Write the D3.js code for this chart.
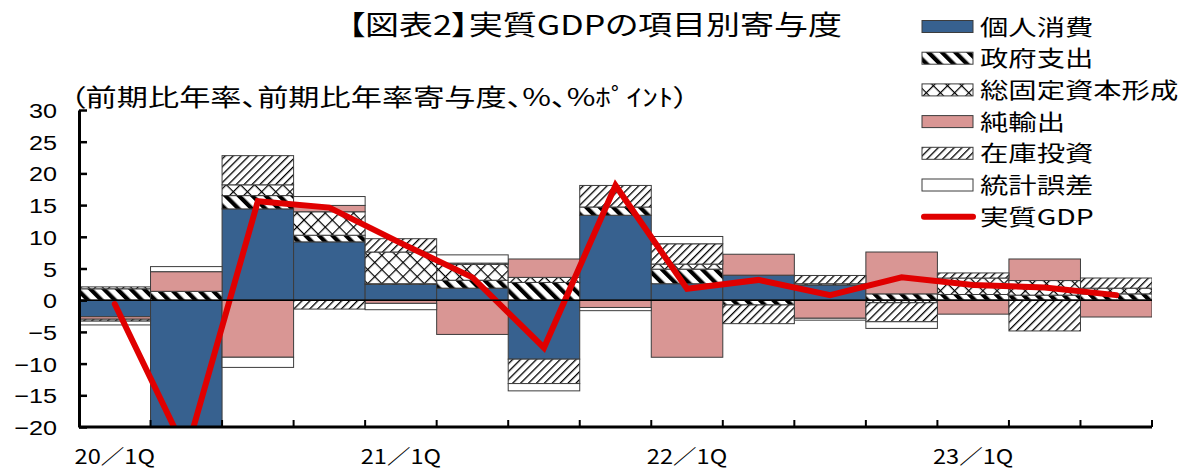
<!DOCTYPE html>
<html>
<head>
<meta charset="utf-8">
<script src="https://cdn.jsdelivr.net/npm/d3@7"></script>
<style>
  body { margin: 0; background: #fff; }
  svg { display: block; }
</style>
</head>
<body>
<svg id="chart"></svg>
<script>
// quarters on the x axis
let quarters = ['20/1Q','20/2Q','20/3Q','20/4Q','21/1Q','21/2Q','21/3Q','21/4Q',
                '22/1Q','22/2Q','22/3Q','22/4Q','23/1Q','23/2Q','23/3Q'];
let tickQuarters = ['20/1Q','21/1Q','22/1Q','23/1Q'];
let yTicks = [-20,-15,-10,-5,0,5,10,15,20,25,30];

// contributions (%pt)
let consumption     = [-2.6,-29.0,14.4, 9.2, 2.5, 1.9,-9.3,13.4, 2.6, 3.95, 2.4, 0.0, 0.0, 0.0, 0.0];
let government      = [ 1.8,  1.4, 2.1, 1.05,0.1, 1.25,2.8, 1.3, 2.3,-0.75, 0.0, 1.0, 0.9, 0.8, 1.0];
let investment      = [ 0.3,  0.0, 1.7, 3.7, 5.0, 2.5, 0.8, 0.0, 0.8, 0.0,  0.2,-0.4, 2.6, 2.3, 0.9];
let netExports      = [-0.4,  3.1,-9.0, 1.0,-0.5,-5.4, 2.9,-1.15,-9.0,3.3, -2.85,6.6,-2.2, 3.4,-2.65];
let inventories     = [-0.3,  0.0, 4.6,-1.4, 2.1, 0.2,-3.85,3.4, 3.2,-2.95, 1.3,-3.0, 0.8,-4.85,1.6];
let statDiscrepancy = [-0.6,  0.8,-1.6, 1.4,-1.0, 1.3,-1.15,-0.5,1.15,0.0, -0.3,-1.05,0.0, 0.0, 0.0];
let realGDP         = [-0.6,-24.0,15.6,14.6, 9.0, 3.6,-7.5,18.1, 1.8, 3.2,  0.8, 3.6, 2.4, 2.0, 0.8];

let seriesNames = ['個人消費','政府支出','総固定資本形成','純輸出','在庫投資','統計誤差'];
let seriesValues = [consumption, government, investment, netExports, inventories, statDiscrepancy];
let lineName = '実質GDP';

let width = 1187;
let height = 470;
let plotLeft = 79, plotRight = 1152, plotTop = 110, plotBottom = 427;

let jp = '"Noto Sans CJK JP", "Noto Sans", sans-serif';

let svg = d3.select('#chart').attr('width', width).attr('height', height);
let defs = svg.append('defs');

// fill patterns
let pGov = defs.append('pattern').attr('id', 'pGov')
    .attr('patternUnits', 'userSpaceOnUse').attr('width', 9.5).attr('height', 9.5)
    .attr('patternTransform', 'rotate(-45)');
pGov.append('rect').attr('width', 9.5).attr('height', 9.5).attr('fill', '#fff');
pGov.append('rect').attr('width', 4.2).attr('height', 9.5).attr('fill', '#000');

let pCap = defs.append('pattern').attr('id', 'pCap')
    .attr('patternUnits', 'userSpaceOnUse').attr('width', 10).attr('height', 10)
    .attr('patternTransform', 'rotate(45)');
pCap.append('rect').attr('width', 10).attr('height', 10).attr('fill', '#fff');
pCap.append('rect').attr('width', 1.2).attr('height', 10).attr('fill', '#000');
pCap.append('rect').attr('width', 10).attr('height', 1.2).attr('fill', '#000');

let pInv = defs.append('pattern').attr('id', 'pInv')
    .attr('patternUnits', 'userSpaceOnUse').attr('width', 5.6).attr('height', 5.6)
    .attr('patternTransform', 'rotate(45)');
pInv.append('rect').attr('width', 5.6).attr('height', 5.6).attr('fill', '#fff');
pInv.append('rect').attr('width', 1.3).attr('height', 5.6).attr('fill', '#000');

let fills = {
    '個人消費': '#37618F',
    '政府支出': 'url(#pGov)',
    '総固定資本形成': 'url(#pCap)',
    '純輸出': '#D99694',
    '在庫投資': 'url(#pInv)',
    '統計誤差': '#fff'
};

defs.append('clipPath').attr('id', 'plotClip')
    .append('rect').attr('x', plotLeft).attr('y', plotTop)
    .attr('width', plotRight - plotLeft).attr('height', plotBottom - plotTop);

// scales
let xScale = d3.scaleBand().domain(quarters).range([plotLeft, plotRight]).padding(0);
let yScale = d3.scaleLinear().domain([-20, 30]).range([plotBottom, plotTop]);

// stacked data
let rows = quarters.map((q, i) => {
    let r = { q: q };
    seriesNames.forEach((s, j) => { r[s] = seriesValues[j][i]; });
    return r;
});
let stacked = d3.stack().keys(seriesNames).offset(d3.stackOffsetDiverging)(rows);

let plot = svg.append('g').attr('clip-path', 'url(#plotClip)');

stacked.forEach(layer => {
    plot.append('g').selectAll('rect')
        .data(layer.filter(d => d[0] !== d[1]))
        .enter()
        .append('rect')
        .attr('x', d => xScale(d.data.q))
        .attr('width', xScale.bandwidth())
        .attr('y', d => yScale(Math.max(d[0], d[1])))
        .attr('height', d => Math.abs(yScale(d[0]) - yScale(d[1])))
        .attr('fill', fills[layer.key])
        .attr('stroke', '#3c3c3c')
        .attr('stroke-width', 1);
});

// zero line
svg.append('line')
    .attr('x1', plotLeft).attr('x2', plotRight)
    .attr('y1', yScale(0)).attr('y2', yScale(0))
    .attr('stroke', '#000').attr('stroke-width', 1.5);

// real GDP line
let gdpLine = d3.line()
    .x((d, i) => xScale(quarters[i]) + xScale.bandwidth() / 2)
    .y(d => yScale(d));
plot.append('path')
    .datum(realGDP)
    .attr('d', gdpLine)
    .attr('fill', 'none')
    .attr('stroke', '#E00000')
    .attr('stroke-width', 6)
    .attr('stroke-linecap', 'round')
    .attr('stroke-linejoin', 'miter');

// y axis (ticks inside)
let ySx = 1.2;
let yAxis = d3.axisLeft(yScale)
    .tickValues(yTicks)
    .tickSize(-8)
    .tickSizeOuter(0)
    .tickPadding(22)
    .tickFormat(d => d < 0 ? '−' + Math.abs(d) : d);
let yG = svg.append('g').attr('transform', 'translate(' + plotLeft + ',0)').call(yAxis);
yG.select('.domain').attr('stroke', '#000').attr('stroke-width', 3);
yG.selectAll('.tick line').attr('stroke', '#000').attr('stroke-width', 2.5);
yG.selectAll('.tick text')
    .attr('x', -22 / ySx)
    .attr('transform', 'scale(' + ySx + ',1)')
    .attr('dy', '0.36em')
    .style('font-family', '"Liberation Sans", Arial, sans-serif')
    .style('font-size', '21px')
    .attr('fill', '#000');

// x axis (ticks at band edges, pointing up)
let edges = quarters.map(q => xScale(q)).concat([plotRight]);
let xG = svg.append('g');
xG.append('line')
    .attr('x1', plotLeft).attr('x2', plotRight)
    .attr('y1', plotBottom).attr('y2', plotBottom)
    .attr('stroke', '#000').attr('stroke-width', 3);
xG.selectAll('line.tk')
    .data(edges)
    .enter()
    .append('line')
    .attr('class', 'tk')
    .attr('x1', d => d).attr('x2', d => d)
    .attr('y1', plotBottom).attr('y2', plotBottom - 7)
    .attr('stroke', '#000').attr('stroke-width', 2);

let stext = (sel, x, y, str, size, sx, anchor, palt) => {
    let t = sel.append('text')
        .attr('transform', 'translate(' + x + ',' + y + ') scale(' + sx + ',1)')
        .attr('text-anchor', anchor)
        .style('font-family', jp)
        .style('font-size', size + 'px')
        .attr('fill', '#000')
        .text(str);
    if (palt) t.style('font-feature-settings', '"palt" 1');
    return t;
};

tickQuarters.forEach(q => {
    stext(xG, xScale(q) + xScale.bandwidth() / 2, 464, q.replace('/', '／'), 20, 1.18, 'middle');
});

// title and unit note
stext(svg, 595, 35, '【図表2】実質GDPの項目別寄与度', 27, 1.26, 'middle', true);
stext(svg, 70, 106, '（前期比年率、前期比年率寄与度、%、%ﾎﾟｲﾝﾄ）', 24, 1.3, 'start', true);

// legend
let lgX = 922, lgY0 = 26.5, lgStep = 31.7;
let lg = svg.append('g');
seriesNames.forEach((s, i) => {
    let cy = lgY0 + i * lgStep;
    lg.append('rect')
        .attr('x', lgX).attr('y', cy - 6)
        .attr('width', 51).attr('height', 12)
        .attr('fill', fills[s])
        .attr('stroke', '#3c3c3c').attr('stroke-width', 1);
    stext(lg, 980, cy + 8, s, 21.8, 1.3, 'start');
});
let lcy = lgY0 + seriesNames.length * lgStep;
lg.append('line')
    .attr('x1', lgX + 2).attr('x2', lgX + 51)
    .attr('y1', lcy).attr('y2', lcy)
    .attr('stroke', '#E00000').attr('stroke-width', 6)
    .attr('stroke-linecap', 'round');
stext(lg, 980, lcy + 8, lineName, 21.8, 1.3, 'start');
</script>
</body>
</html>
